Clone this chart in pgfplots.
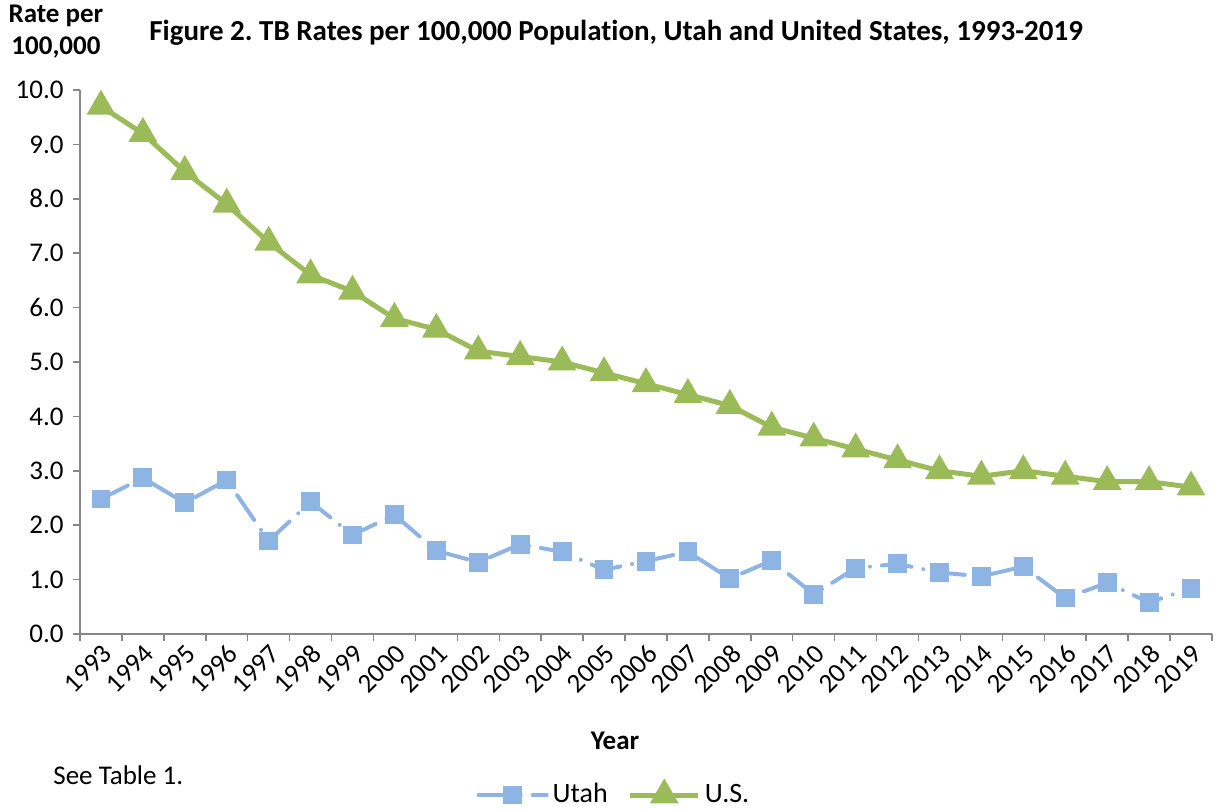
\documentclass[border=0pt]{standalone}
\usepackage{fontspec}
\setmainfont{Carlito}[Ligatures=NoCommon]
\usepackage{pgfplots}
\pgfplotsset{compat=1.18}
\definecolor{utahc}{HTML}{8EB4E3}
\definecolor{usc}{HTML}{9BBB59}
\definecolor{axc}{HTML}{868686}
\begin{document}
\frenchspacing
\fontsize{13.5}{16}\selectfont
\begin{tikzpicture}
\path[use as bounding box] (-40pt,-87.5pt) rectangle (576pt,317pt);
\begin{axis}[
  at={(0pt,0pt)}, anchor=south west,
  width=566pt, height=272pt, scale only axis,
  xmin=-0.5, xmax=26.5, ymin=0, ymax=10,
  xtick={0,...,26},
  xticklabels={1993,1994,1995,1996,1997,1998,1999,2000,2001,2002,2003,2004,2005,2006,2007,2008,2009,2010,2011,2012,2013,2014,2015,2016,2017,2018,2019},
  minor xtick={-0.5,0.5,...,26.5},
  ytick={0,1,...,10},
  yticklabel={\pgfmathprintnumber[fixed,fixed zerofill,precision=1,assume math mode=true]{\tick}},
  xticklabel style={rotate=45, anchor=north east, inner sep=0.5pt, font=\fontsize{13.5}{16}\selectfont},
  yticklabel style={font=\fontsize{13.5}{16}\selectfont},
  axis x line*=bottom, axis y line*=left,
  axis line style={axc, line width=0.75pt, -},
  tick align=outside,
  major x tick style={draw=none},
  minor x tick style={axc, line width=0.75pt},
  minor tick length=3.5pt,
  major tick length=3.5pt,
  y tick style={axc, line width=0.75pt},
  legend style={at={(axis description cs:0.4726,-0.296)}, anchor=center, draw=none, fill=none,
    legend columns=2, font=\fontsize{14}{16}\selectfont,
    /tikz/every even column/.append style={column sep=8pt}},
  legend image code/.code={%
    \draw[mark repeat=2,mark phase=2] plot coordinates {(0pt,0pt) (17pt,0pt) (34pt,0pt)};},
  clip=false,
]
\addplot[color=utahc, line width=2pt, line cap=round, dash pattern=on 15pt off 6pt on 0pt off 6pt,
  mark=square*, mark size=3.7pt, mark options={solid, fill=utahc}]
coordinates {
(0,2.48)(1,2.87)(2,2.41)(3,2.83)(4,1.71)(5,2.43)(6,1.82)(7,2.19)(8,1.53)(9,1.32)
(10,1.65)(11,1.51)(12,1.18)(13,1.34)(14,1.51)(15,1.02)(16,1.35)(17,0.73)(18,1.21)(19,1.29)
(20,1.13)(21,1.06)(22,1.24)(23,0.66)(24,0.94)(25,0.58)(26,0.84)};
\addlegendentry{Utah}
\addplot[color=usc, line width=2.5pt, mark=triangle*, mark size=5.8pt, mark options={solid, fill=usc}]
coordinates {
(0,9.7)(1,9.2)(2,8.5)(3,7.9)(4,7.2)(5,6.6)(6,6.3)(7,5.8)(8,5.6)(9,5.2)
(10,5.1)(11,5.0)(12,4.8)(13,4.6)(14,4.4)(15,4.2)(16,3.8)(17,3.6)(18,3.4)(19,3.2)
(20,3.0)(21,2.9)(22,3.0)(23,2.9)(24,2.8)(25,2.8)(26,2.7)};
\addlegendentry{U.S.}
\end{axis}
\node[font=\bfseries\fontsize{13.5}{16}\selectfont, align=center] at (-12pt,301pt) {Rate per\\100,000};
\node[font=\bfseries\fontsize{14.5}{17}\selectfont] at (268pt,300.5pt) {Figure 2. TB Rates per 100,000 Population, Utah and United States, 1993-2019};
\node[font=\bfseries\fontsize{13.5}{16}\selectfont] at (267.5pt,-53.5pt) {Year};
\node[anchor=west, font=\fontsize{13.5}{16}\selectfont] at (-18pt,-70.5pt) {See Table 1.};
\end{tikzpicture}
\end{document}
